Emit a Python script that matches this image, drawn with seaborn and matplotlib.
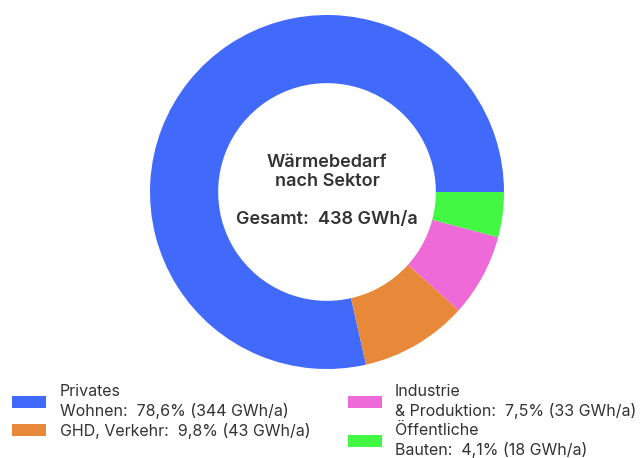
import matplotlib
matplotlib.use("Agg")
import matplotlib.pyplot as plt
import seaborn as sns
from matplotlib.patches import Patch

# Daten
sektoren = ["Privates\nWohnen:", "GHD, Verkehr:", "Industrie\n& Produktion:", "Öffentliche\nBauten:"]
werte_gwh = [344, 43, 33, 18]
anteile = ["78,6%", "9,8%", "7,5%", "4,1%"]
farben = ["#4169FA", "#E8893A", "#EE6AD8", "#42F842"]

sns.set_theme(style="white")
plt.rcParams['font.family'] = ['Inter', 'DejaVu Sans']

fig = plt.figure(figsize=(6.43, 4.58), dpi=100)
ax = fig.add_axes([150/643, 1 - 369/458, 354/643, 354/458])

ax.pie(werte_gwh, colors=farben, startangle=0, counterclock=True,
       radius=1, wedgeprops=dict(width=0.385, linewidth=0))
ax.set_xlim(-1, 1)
ax.set_ylim(-1, 1)
ax.set_aspect('equal')
ax.axis('off')

gesamt = sum(werte_gwh)
ax.text(0.0, 0.113, "Wärmebedarf\nnach Sektor", ha='center', va='center',
        fontsize=13, fontweight='semibold', color='#333333', linespacing=1.1)
ax.text(0.0, -0.158, f"Gesamt:  {gesamt} GWh/a", ha='center', va='center',
        fontsize=13, fontweight='semibold', color='#333333')

handles = [Patch(facecolor=c, edgecolor='none') for c in farben]
labels = [f"{s}  {a} ({w} GWh/a)" for s, a, w in zip(sektoren, anteile, werte_gwh)]

# zwei Spalten als getrennte Legenden
spalten = [(slice(0, 2), 12 / 643, 0.9), (slice(2, 4), 348 / 643, 0.85)]
for sl, x0, pad in spalten:
    leg = fig.legend(handles[sl], labels[sl], loc='upper left',
                     bbox_to_anchor=(x0, 1 - 384 / 458), frameon=False,
                     fontsize=11.5, handlelength=2.1, handleheight=0.75,
                     handletextpad=pad, labelspacing=0.25, borderpad=0,
                     borderaxespad=0, labelcolor='#333333')
    for t in leg.get_texts():
        t.set_linespacing(1.3)

fig.savefig("out.png", dpi=100)
